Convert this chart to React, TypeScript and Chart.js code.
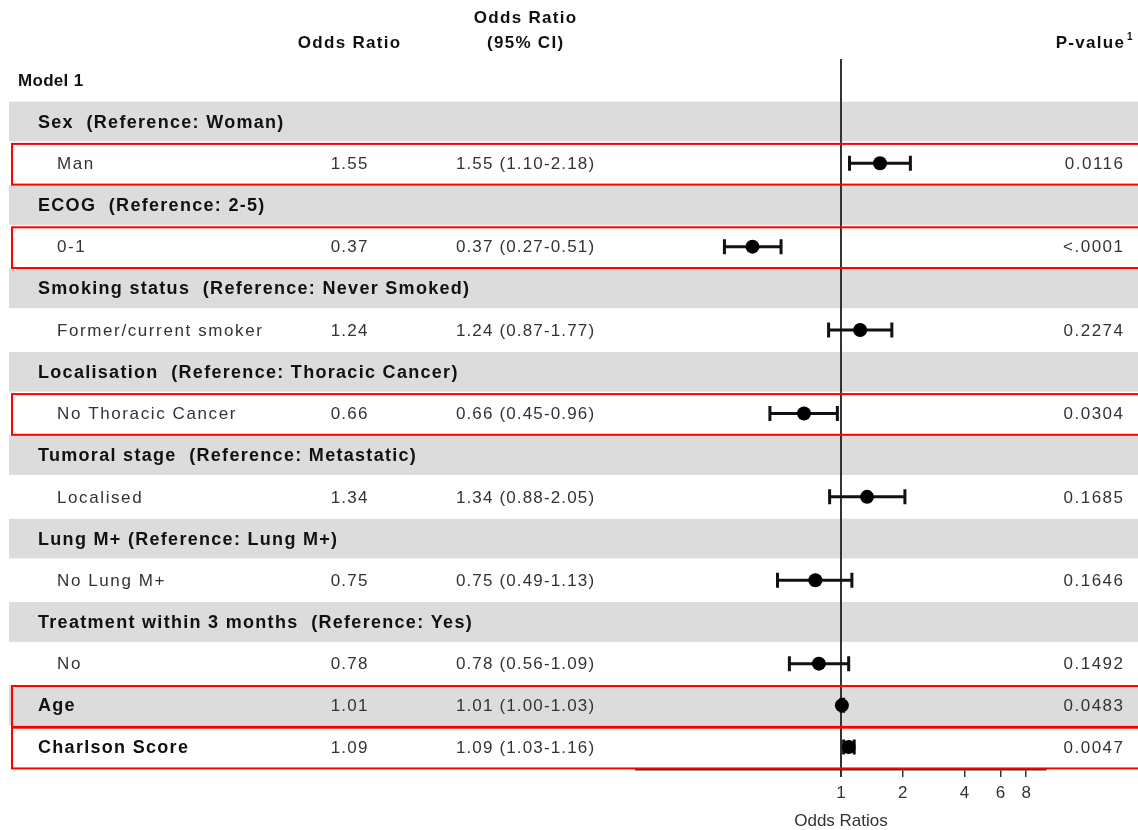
import React, { useEffect, useRef } from "react";
import { Chart, registerables } from "chart.js";

Chart.register(...registerables);

// ---------- data ----------
const ROW_LABELS: string[] = [
  "Model 1",
  "Sex  (Reference: Woman)",
  "Man",
  "ECOG  (Reference: 2-5)",
  "0-1",
  "Smoking status  (Reference: Never Smoked)",
  "Former/current smoker",
  "Localisation  (Reference: Thoracic Cancer)",
  "No Thoracic Cancer",
  "Tumoral stage  (Reference: Metastatic)",
  "Localised",
  "Lung M+ (Reference: Lung M+)",
  "No Lung M+",
  "Treatment within 3 months  (Reference: Yes)",
  "No",
  "Age",
  "Charlson Score",
];
const ROW_TYPES: string[] = [
  "model", "group", "item", "group", "item", "group", "item", "group", "item",
  "group", "item", "group", "item", "group", "item", "var", "var",
];
const ODDS_RATIOS: (number | null)[] = [
  null, null, 1.55, null, 0.37, null, 1.24, null, 0.66, null, 1.34, null, 0.75, null, 0.78, 1.01, 1.09,
];
const CI_LOWER: (number | null)[] = [
  null, null, 1.1, null, 0.27, null, 0.87, null, 0.45, null, 0.88, null, 0.49, null, 0.56, 1.0, 1.03,
];
const CI_UPPER: (number | null)[] = [
  null, null, 2.18, null, 0.51, null, 1.77, null, 0.96, null, 2.05, null, 1.13, null, 1.09, 1.03, 1.16,
];
const P_VALUES: (string | null)[] = [
  null, null, "0.0116", null, "<.0001", null, "0.2274", null, "0.0304", null, "0.1685", null, "0.1646", null, "0.1492", "0.0483", "0.0047",
];
const HIGHLIGHTED: boolean[] = [
  false, false, true, false, true, false, false, false, true, false, false, false, false, false, false, true, true,
];
const X_TICKS: number[] = [1, 2, 4, 6, 8];
const X_TITLE = "Odds Ratios";

const FONT = "'Liberation Sans', Arial, Helvetica, sans-serif";

function drawText(
  ctx: CanvasRenderingContext2D,
  text: string,
  x: number,
  y: number,
  opts: { bold?: boolean; size?: number; align?: CanvasTextAlign; spacing?: number; color?: string }
) {
  const { bold = false, size = 17, align = "left", spacing = 0, color = "#333" } = opts;
  ctx.save();
  ctx.font = `${bold ? "bold " : ""}${size}px ${FONT}`;
  (ctx as any).letterSpacing = `${spacing}px`;
  ctx.fillStyle = color;
  ctx.textBaseline = "middle";
  let px = x;
  if (align !== "left" && spacing) {
    const w = ctx.measureText(text).width - spacing;
    px = align === "center" ? x - w / 2 : x - w;
    ctx.textAlign = "left";
  } else {
    ctx.textAlign = align;
  }
  ctx.fillText(text, px, y);
  ctx.restore();
}

const forestPlugin = {
  id: "forestTable",
  beforeDraw(chart: any) {
    const { ctx, scales } = chart;
    const y = scales.y;
    const rowH = Math.abs(y.getPixelForValue(1) - y.getPixelForValue(0));
    ctx.save();
    ctx.fillStyle = "#dcdcdc";
    ROW_LABELS.forEach((_, i) => {
      if (i % 2 === 1) {
        const c = y.getPixelForValue(i);
        ctx.fillRect(9, c - rowH / 2 + 1, chart.width, rowH - 2);
      }
    });
    ctx.restore();
  },
  beforeDatasetsDraw(chart: any) {
    const { ctx, scales, chartArea } = chart;
    const x = scales.x;
    const y = scales.y;
    ctx.save();
    // reference line at OR = 1
    const x1 = Math.round(x.getPixelForValue(1));
    ctx.strokeStyle = "#333";
    ctx.lineWidth = 2;
    ctx.beginPath();
    ctx.moveTo(x1, chartArea.top);
    ctx.lineTo(x1, chartArea.bottom + 7);
    ctx.stroke();
    // error bars
    ctx.strokeStyle = "#111";
    ctx.lineWidth = 3;
    ODDS_RATIOS.forEach((v, i) => {
      const lo = CI_LOWER[i];
      const hi = CI_UPPER[i];
      if (v == null || lo == null || hi == null) return;
      const cy = y.getPixelForValue(i);
      const xl = x.getPixelForValue(lo);
      const xh = x.getPixelForValue(hi);
      ctx.beginPath();
      ctx.moveTo(xl, cy);
      ctx.lineTo(xh, cy);
      ctx.moveTo(xl, cy - 7.5);
      ctx.lineTo(xl, cy + 7.5);
      ctx.moveTo(xh, cy - 7.5);
      ctx.lineTo(xh, cy + 7.5);
      ctx.stroke();
    });
    ctx.restore();
  },
  afterDraw(chart: any) {
    const { ctx, scales, chartArea } = chart;
    const y = scales.y;
    const rowH = Math.abs(y.getPixelForValue(1) - y.getPixelForValue(0));
    const colOR = 349;
    const colCI = 525;
    const colP = 1124;

    // column headers
    const top = chartArea.top;
    drawText(ctx, "Odds Ratio", colOR, top - 16, { bold: true, size: 17, align: "center", spacing: 1.3, color: "#111" });
    drawText(ctx, "Odds Ratio", colCI, top - 41, { bold: true, size: 17, align: "center", spacing: 1.3, color: "#111" });
    drawText(ctx, "(95% CI)", colCI, top - 16, { bold: true, size: 17, align: "center", spacing: 1.3, color: "#111" });
    drawText(ctx, "P-value", colP, top - 16, { bold: true, size: 17, align: "right", spacing: 1.3, color: "#111" });
    drawText(ctx, "1", colP + 3, top - 22, { bold: true, size: 10, align: "left", color: "#111" });

    ROW_LABELS.forEach((label, i) => {
      const cy = y.getPixelForValue(i) + 1;
      const t = ROW_TYPES[i];
      if (t === "model") {
        drawText(ctx, label, 18, cy, { bold: true, size: 17, spacing: 0.3, color: "#111" });
      } else if (t === "group" || t === "var") {
        drawText(ctx, label, 38, cy, { bold: true, size: 18, spacing: 1.3, color: "#111" });
      } else {
        drawText(ctx, label, 57, cy, { spacing: 1.6 });
      }
      const v = ODDS_RATIOS[i];
      if (v != null) {
        drawText(ctx, v.toFixed(2), colOR, cy, { align: "center", spacing: 1.2 });
        const ci = `${v.toFixed(2)} (${(CI_LOWER[i] as number).toFixed(2)}-${(CI_UPPER[i] as number).toFixed(2)})`;
        drawText(ctx, ci, colCI, cy, { align: "center", spacing: 1.15 });
      }
      const p = P_VALUES[i];
      if (p != null) drawText(ctx, p, colP - 1, cy, { align: "right", spacing: 1.5 });
    });

    // highlight boxes
    ctx.save();
    ctx.strokeStyle = "#ff0000";
    ctx.lineWidth = 2;
    HIGHLIGHTED.forEach((h, i) => {
      if (!h) return;
      const c = y.getPixelForValue(i);
      ctx.strokeRect(12, c - rowH / 2 + 1.5, chart.width + 10, rowH - 1);
    });
    ctx.restore();
  },
};

export default function App() {
  const canvasRef = useRef<HTMLCanvasElement | null>(null);

  useEffect(() => {
    if (!canvasRef.current) return;
    Chart.defaults.font.family = FONT;
    const points = ODDS_RATIOS.map((v, i) => (v == null ? null : { x: v, y: i })).filter(Boolean) as { x: number; y: number }[];
    const chart = new Chart(canvasRef.current, {
      type: "scatter",
      data: {
        datasets: [
          {
            label: "Odds ratio",
            data: points,
            pointRadius: 7,
            pointHoverRadius: 7,
            backgroundColor: "#000",
            borderWidth: 0,
          },
        ],
      },
      options: {
        responsive: false,
        animation: false,
        events: [],
        layout: { padding: { left: 636, right: 92, top: 59, bottom: 0 } },
        plugins: { legend: { display: false }, tooltip: { enabled: false } },
        scales: {
          x: {
            type: "logarithmic",
            min: 0.1,
            max: 10,
            position: "bottom",
            afterBuildTicks: (s: any) => {
              s.ticks = X_TICKS.map((v) => ({ value: v }));
            },
            afterFit: (s: any) => {
              s.height = 60;
            },
            ticks: {
              autoSkip: false,
              maxRotation: 0,
              color: "#333",
              padding: 6,
              font: { size: 17 },
              callback: (v: any) => String(v),
            },
            grid: { drawOnChartArea: false, drawTicks: true, tickLength: 7, color: "#333", lineWidth: 1.5 },
            border: { display: true, color: "#333", width: 1.5 },
            title: {
              display: true,
              text: X_TITLE,
              color: "#333",
              font: { size: 17, lineHeight: 1.0 },
              padding: { top: 4, bottom: 0 },
            },
          },
          y: { type: "linear", display: false, reverse: true, min: -0.5, max: 16.55 },
        },
      },
      plugins: [forestPlugin],
    } as any);
    return () => chart.destroy();
  }, []);

  return (
    <div style={{ position: "absolute", left: 0, top: 0, width: 1138, height: 830, background: "#fff" }}>
      <canvas ref={canvasRef} width={1138} height={830} style={{ display: "block", width: 1138, height: 830 }} />
    </div>
  );
}
